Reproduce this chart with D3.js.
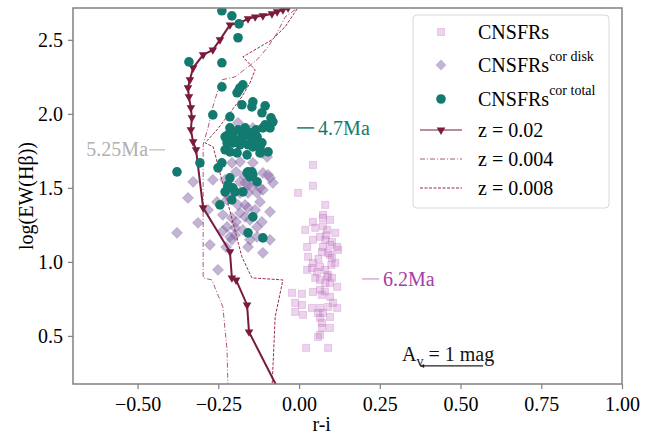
<!DOCTYPE html>
<html>
<head>
<meta charset="utf-8">
<script src="https://cdn.jsdelivr.net/npm/d3@7"></script>
<style>
  body { margin: 0; background: white; }
  svg text { font-family: "Liberation Serif", "Times New Roman", "DejaVu Serif", serif; }
</style>
</head>
<body>
<svg id="chart" width="662" height="439" font-family="Liberation Serif, serif"></svg>
<script>
// CNSFRs observed [r-i, log EW(Hb)]
const cnsfrs = [
  [0.043,1.655],[0.043,1.514],[-0.003,1.466],[0.081,1.385],[0.074,1.318],[0.043,1.270],
  [0.074,1.297],[0.096,1.284],[0.019,1.216],[0.050,1.230],[0.087,1.216],[0.112,1.196],
  [0.043,1.149],[0.065,1.169],[0.081,1.149],[0.102,1.135],[0.025,1.101],[0.074,1.101],
  [0.096,1.115],[0.118,1.101],[0.121,1.081],[0.028,1.034],[0.071,1.068],[0.096,1.047],
  [0.102,1.027],[0.112,0.993],[0.043,0.993],[0.065,0.966],[0.025,0.946],[0.040,0.959],
  [0.056,0.932],[0.081,0.946],[0.090,0.912],[0.087,0.899],[0.102,0.892],[0.118,0.831],
  [0.050,0.892],[0.065,0.878],[0.081,0.858],[0.096,0.858],[0.043,0.797],[0.065,0.811],
  [0.071,0.777],[-0.022,0.791],[0.009,0.784],[-0.012,0.723],[0.009,0.709],[-0.012,0.662],
  [0.012,0.642],[0.040,0.689],[0.065,0.689],[0.090,0.696],[0.105,0.723],[0.096,0.764],
  [0.118,0.689],[0.059,0.655],[0.074,0.655],[0.096,0.628],[0.065,0.622],[0.071,0.588],
  [0.071,0.554],[0.096,0.554],[0.059,0.493],[0.065,0.507],[0.022,0.419],[0.090,0.419],
  [0.074,1.240],[0.084,1.180],[0.090,1.060],[0.060,1.020],[0.100,0.980],[0.080,0.800]
];

// CNSFRs corrected for disk
const corDisk = [
  [-0.189,1.939],[-0.143,1.905],[-0.115,1.736],[-0.099,1.709],[-0.208,1.669],[-0.183,1.676],
  [-0.143,1.669],[-0.112,1.601],[-0.090,1.568],[-0.081,1.534],[-0.096,1.588],[-0.328,1.541],
  [-0.267,1.554],[-0.229,1.554],[-0.183,1.541],[-0.167,1.534],[-0.158,1.520],[-0.146,1.507],
  [-0.121,1.500],[-0.112,1.486],[-0.130,1.466],[-0.208,1.486],[-0.183,1.466],[-0.158,1.466],
  [-0.344,1.432],[-0.254,1.405],[-0.223,1.419],[-0.189,1.385],[-0.167,1.385],[-0.158,1.365],
  [-0.136,1.351],[-0.121,1.405],[-0.090,1.338],[-0.282,1.351],[-0.236,1.318],[-0.208,1.297],
  [-0.183,1.331],[-0.167,1.304],[-0.152,1.284],[-0.313,1.264],[-0.223,1.236],[-0.198,1.230],
  [-0.130,1.236],[-0.378,1.196],[-0.214,1.169],[-0.208,1.149],[-0.198,1.182],[-0.152,1.149],
  [-0.130,1.169],[-0.090,1.149],[-0.276,1.115],[-0.158,1.101],[-0.112,1.061],[-0.251,0.946],
  [-0.195,1.608],[-0.170,1.581],[-0.220,1.446],[-0.195,1.270],[-0.174,1.216],[-0.115,1.270],
  [-0.236,1.210],[-0.226,1.100]
];

// CNSFRs corrected total
const corTotal = [
  [-0.239,2.696],[-0.208,2.662],[-0.186,2.608],[-0.189,2.514],[-0.341,2.351],[-0.239,2.345],
  [-0.239,2.182],[-0.183,2.176],[-0.174,2.196],[-0.192,2.142],[-0.186,2.162],[-0.267,1.993],
  [-0.214,1.980],[-0.177,2.061],[-0.143,2.081],[-0.146,2.047],[-0.105,2.054],[-0.115,2.007],
  [-0.087,1.973],[-0.096,1.919],[-0.214,1.905],[-0.220,1.858],[-0.229,1.845],[-0.205,1.872],
  [-0.189,1.892],[-0.177,1.845],[-0.167,1.858],[-0.152,1.872],[-0.130,1.845],[-0.105,1.926],
  [-0.081,1.946],[-0.112,1.905],[-0.090,1.905],[-0.223,1.804],[-0.205,1.804],[-0.183,1.791],
  [-0.174,1.811],[-0.158,1.791],[-0.146,1.824],[-0.143,1.777],[-0.121,1.770],[-0.115,1.804],
  [-0.096,1.743],[-0.229,1.757],[-0.214,1.743],[-0.192,1.736],[-0.161,1.723],[-0.121,1.736],
  [-0.239,1.669],[-0.251,1.635],[-0.307,1.669],[-0.378,1.608],[-0.158,1.608],[-0.146,1.608],
  [-0.161,1.601],[-0.143,1.588],[-0.152,1.574],[-0.130,1.541],[-0.214,1.568],[-0.220,1.520],
  [-0.205,1.500],[-0.198,1.473],[-0.229,1.473],[-0.174,1.473],[-0.208,1.419],[-0.245,1.385],
  [-0.143,1.304],[-0.158,1.196],[-0.112,1.162],[-0.198,1.824],[-0.167,1.905],[-0.133,1.892],
  [-0.214,1.824],[-0.126,1.811]
];

// evolutionary tracks
const trackZ02 = [
  [-0.034,2.716],[-0.050,2.703],[-0.068,2.689],[-0.084,2.676],[-0.112,2.662],[-0.136,2.655],
  [-0.158,2.642],[-0.183,2.615],[-0.214,2.601],[-0.245,2.500],[-0.267,2.432],[-0.297,2.399],
  [-0.328,2.311],[-0.338,2.230],[-0.344,2.176],[-0.341,2.115],[-0.335,2.041],[-0.332,1.973],
  [-0.335,1.892],[-0.328,1.811],[-0.319,1.757],[-0.297,1.365],[-0.214,1.068],[-0.208,0.892],
  [-0.195,0.878],[-0.161,0.709],[-0.155,0.527],[-0.068,0.155]
];
const trackZ004 = [
  [-0.012,2.703],[-0.043,2.655],[-0.068,2.547],[-0.096,2.453],[-0.130,2.365],[-0.198,2.250],
  [-0.239,2.230],[-0.251,2.162],[-0.267,2.047],[-0.282,1.905],[-0.297,1.791],[-0.297,1.014],
  [-0.297,0.892],[-0.270,0.878],[-0.236,0.696],[-0.223,0.405],[-0.220,0.135]
];
const trackZ008 = [
  [-0.006,2.709],[-0.043,2.588],[-0.084,2.500],[-0.174,2.385],[-0.136,2.297],[-0.152,2.209],
  [-0.177,2.115],[-0.214,2.007],[-0.254,1.892],[-0.291,1.804],[-0.266,1.777],[-0.177,1.034],
  [-0.146,0.892],[-0.050,0.878],[-0.074,0.628],[-0.084,0.135]
];

const xTicks = [-0.50, -0.25, 0.00, 0.25, 0.50, 0.75, 1.00];
const yTicks = [0.5, 1.0, 1.5, 2.0, 2.5];

// age labels: [text, x, y, side]
const ageLabels = [
  ["5.25Ma", -0.415, 1.757, "left"],
  ["4.7Ma", -0.006, 1.905, "right"],
  ["6.2Ma", 0.195, 0.885, "right"]
];

const width = 662, height = 439;
const margin = {top: 8, right: 40, bottom: 55, left: 73};
const serif = "'Liberation Serif', 'Times New Roman', serif";

const svg = d3.select("#chart");

const x = d3.scaleLinear().domain([-0.70, 1.00]).range([margin.left, width - margin.right]);
const y = d3.scaleLinear().domain([0.175, 2.715]).range([height - margin.bottom, margin.top]);

svg.append("defs").append("clipPath").attr("id", "clip")
  .append("rect")
  .attr("x", margin.left).attr("y", margin.top)
  .attr("width", x.range()[1] - margin.left)
  .attr("height", y.range()[0] - margin.top);

const plot = svg.append("g").attr("clip-path", "url(#clip)");

const line = d3.line().x(d => x(d[0])).y(d => y(d[1]));

const colZ02 = "#7a1a3c", colZ004 = "#b05878", colZ008 = "#9c2b52";

// scatter points
plot.selectAll("rect.sq").data(cnsfrs).enter().append("rect")
  .attr("class", "sq")
  .attr("x", d => x(d[0]) - 3.5).attr("y", d => y(d[1]) - 3.5)
  .attr("width", 7).attr("height", 7)
  .attr("fill", "#c070c0").attr("fill-opacity", 0.3)
  .attr("stroke", "#c070c0").attr("stroke-opacity", 0.3);

const diamond = d3.symbol().type(d3.symbolSquare).size(58);
plot.selectAll("path.dm").data(corDisk).enter().append("path")
  .attr("class", "dm")
  .attr("d", diamond)
  .attr("transform", d => "translate(" + x(d[0]) + "," + y(d[1]) + ") rotate(45)")
  .attr("fill", "#8a6aa8").attr("fill-opacity", 0.5)
  .attr("stroke", "#8a6aa8").attr("stroke-opacity", 0.3);

// tracks
plot.append("path").datum(trackZ004).attr("d", line)
  .attr("fill", "none").attr("stroke", colZ004).attr("stroke-width", 1)
  .attr("stroke-dasharray", "5,2,1,2");
plot.append("path").datum(trackZ008).attr("d", line)
  .attr("fill", "none").attr("stroke", colZ008).attr("stroke-width", 1)
  .attr("stroke-dasharray", "3,1.5");
plot.append("path").datum(trackZ02).attr("d", line)
  .attr("fill", "none").attr("stroke", colZ02).attr("stroke-width", 2);

const tri = d3.symbol().type(d3.symbolTriangle).size(32);
plot.selectAll("path.tri").data(trackZ02).enter().append("path")
  .attr("class", "tri")
  .attr("d", tri)
  .attr("transform", d => "translate(" + x(d[0]) + "," + y(d[1]) + ") rotate(180)")
  .attr("fill", colZ02);

plot.selectAll("circle.ct").data(corTotal).enter().append("circle")
  .attr("class", "ct")
  .attr("cx", d => x(d[0])).attr("cy", d => y(d[1]))
  .attr("r", 4.8)
  .attr("fill", "#137a70");

// axes
const axisCol = "#808080";
const xAxis = svg.append("g")
  .attr("transform", "translate(0," + y.range()[0] + ")")
  .call(d3.axisBottom(x).tickValues(xTicks).tickFormat(d => d3.format(".2f")(d).replace("-", "\u2212")).tickSizeOuter(0).tickSize(5));
const yAxis = svg.append("g")
  .attr("transform", "translate(" + margin.left + ",0)")
  .call(d3.axisLeft(y).tickValues(yTicks).tickFormat(d3.format(".1f")).tickSizeOuter(0).tickSize(5));
[xAxis, yAxis].forEach(g => {
  g.attr("font-family", serif);
  g.select(".domain").remove();
  g.selectAll(".tick line").attr("stroke", axisCol).attr("stroke-width", 1.2);
  g.selectAll(".tick text").attr("fill", "#000").style("font-size", "20px")
    .style("font-family", serif);
});
xAxis.selectAll(".tick text").attr("dy", "0.95em");
yAxis.selectAll(".tick text").attr("dx", "-0.1em");

svg.append("rect")
  .attr("x", margin.left).attr("y", margin.top)
  .attr("width", x.range()[1] - margin.left)
  .attr("height", y.range()[0] - margin.top)
  .attr("fill", "none").attr("stroke", axisCol).attr("stroke-width", 1.5);

svg.append("text").attr("x", x(0.07)).attr("y", 431)
  .attr("text-anchor", "middle").style("font-size", "20px").style("font-family", serif).text("r-i");
svg.append("text")
  .attr("transform", "translate(33," + (margin.top + y.range()[0]) / 2 + ") rotate(-90)")
  .attr("text-anchor", "middle").style("font-size", "20px").style("font-family", serif).text("log(EW(H\u03b2))");

// age annotations
const ageCols = ["#b0b0b0", "#137a70", "#a83ca8"];
const ageLineCols = ["#c8c8c8", "#137a70", "#d8a8d8"];
ageLabels.forEach((a, i) => {
  const px = x(a[1]), py = y(a[2]);
  if (a[3] === "left") {
    svg.append("line").attr("x1", px - 16).attr("x2", px).attr("y1", py).attr("y2", py)
      .attr("stroke", ageLineCols[i]).attr("stroke-width", 1.5);
    svg.append("text").attr("x", px - 17).attr("y", py + 6).attr("text-anchor", "end")
      .attr("fill", ageCols[i]).style("font-size", "20px").style("font-family", serif).text(a[0]);
  } else {
    svg.append("line").attr("x1", px).attr("x2", px + 17).attr("y1", py).attr("y2", py)
      .attr("stroke", ageLineCols[i]).attr("stroke-width", 1.5);
    svg.append("text").attr("x", px + 21).attr("y", py + 7).attr("text-anchor", "start")
      .attr("fill", ageCols[i]).style("font-size", "20px").style("font-family", serif).text(a[0]);
  }
});

// extinction vector
const avFrom = [0.570, 0.297], avTo = [0.375, 0.297];
svg.append("line")
  .attr("x1", x(avFrom[0])).attr("y1", y(avFrom[1]))
  .attr("x2", x(avTo[0])).attr("y2", y(avTo[1]))
  .attr("stroke", "#222").attr("stroke-width", 1.3);
svg.append("path")
  .attr("d", "M" + x(avTo[0]) + "," + y(avTo[1]) + " l4,-2 l0,4 z")
  .attr("fill", "#222");
const avText = svg.append("text").attr("x", 402).attr("y", 361).style("font-size", "20px")
  .style("font-family", serif).attr("fill", "#111");
avText.append("tspan").text("A");
avText.append("tspan").attr("dy", 5).style("font-size", "14px").text("v");
avText.append("tspan").attr("dy", -5).text(" = 1 mag");

// legend
const lg = svg.append("g");
lg.append("rect").attr("x", 413).attr("y", 15).attr("width", 196).attr("height", 193)
  .attr("rx", 4).attr("fill", "white").attr("fill-opacity", 0.8)
  .attr("stroke", "#d8d8d8").attr("stroke-width", 1);
const lx = 441, tx = 478;
const rows = [32, 65, 99, 130, 159, 188];
lg.append("rect").attr("x", lx - 3.5).attr("y", rows[0] - 3.5).attr("width", 7).attr("height", 7)
  .attr("fill", "#c070c0").attr("fill-opacity", 0.3).attr("stroke", "#c070c0").attr("stroke-opacity", 0.3);
lg.append("path").attr("d", diamond).attr("transform", "translate(" + lx + "," + rows[1] + ") rotate(45)")
  .attr("fill", "#8a6aa8").attr("fill-opacity", 0.5);
lg.append("circle").attr("cx", lx).attr("cy", rows[2]).attr("r", 4.8).attr("fill", "#137a70");
lg.append("line").attr("x1", 420).attr("x2", 462).attr("y1", rows[3]).attr("y2", rows[3])
  .attr("stroke", colZ02).attr("stroke-width", 1.2);
lg.append("path").attr("d", tri).attr("transform", "translate(" + lx + "," + rows[3] + ") rotate(180)").attr("fill", colZ02);
lg.append("line").attr("x1", 420).attr("x2", 462).attr("y1", rows[4]).attr("y2", rows[4])
  .attr("stroke", colZ004).attr("stroke-width", 1).attr("stroke-dasharray", "5,2,1,2");
lg.append("line").attr("x1", 420).attr("x2", 462).attr("y1", rows[5]).attr("y2", rows[5])
  .attr("stroke", colZ008).attr("stroke-width", 1).attr("stroke-dasharray", "3,1.5");

const labels = [["CNSFRs", ""], ["CNSFRs", "cor disk"], ["CNSFRs", "cor total"],
  ["z = 0.02", ""], ["z = 0.004", ""], ["z = 0.008", ""]];
labels.forEach((l, i) => {
  const t = lg.append("text").attr("x", tx).attr("y", rows[i] + 7).style("font-size", "20px")
    .style("font-family", serif);
  t.append("tspan").text(l[0]);
  if (l[1]) t.append("tspan").attr("dy", -11).style("font-size", "14px").text(l[1]);
});
</script>
</body>
</html>
